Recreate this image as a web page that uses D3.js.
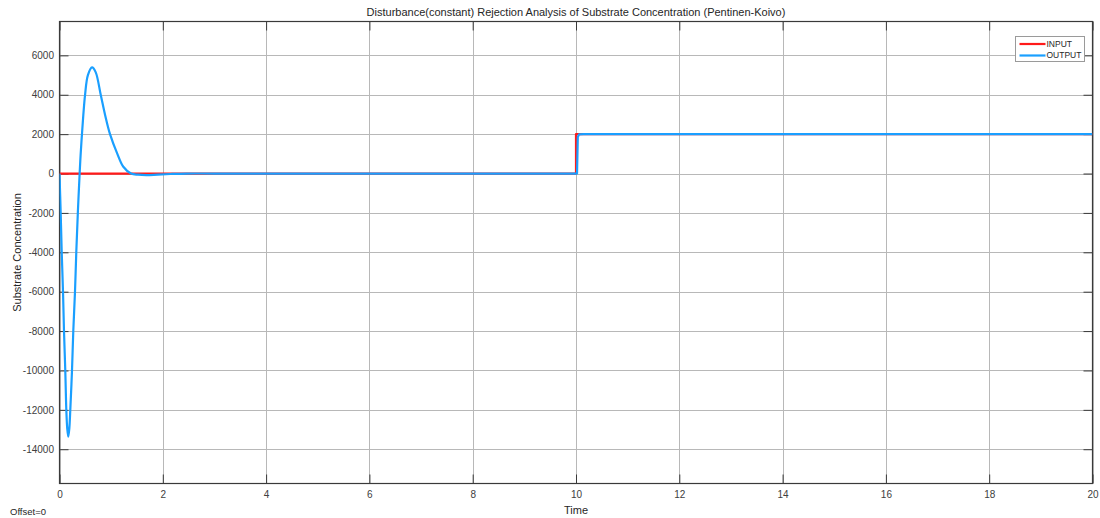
<!DOCTYPE html>
<html>
<head>
<meta charset="utf-8">
<script src="https://cdn.jsdelivr.net/npm/d3@7"></script>
<style>
  html, body { margin: 0; padding: 0; background: #fff; }
  svg { display: block; font-family: "Liberation Sans", Arial, Helvetica, sans-serif; }
</style>
</head>
<body>
<svg id="chart" width="1100" height="518"></svg>
<script>
// Simulated time (s) and controller response samples
const inputTime  = [0, 10, 10, 20];
const inputValue = [0, 0, 2000, 2000];

// transient part of the output (smooth)
const outputTime  = [0, 0.023, 0.043, 0.068, 0.087, 0.112, 0.132, 0.150, 0.170, 0.190, 0.209, 0.242, 0.267, 0.300, 0.325, 0.355, 0.390, 0.410, 0.435, 0.462, 0.495, 0.550, 0.630, 0.700, 0.798, 0.885, 0.978, 1.120, 1.236, 1.385, 1.520, 1.680, 1.900, 2.150, 2.460, 3.000, 6.000, 10.000];
const outputValue = [0, -2000, -4000, -6000, -8000, -10000, -12000, -12950, -13360, -12950, -12000, -10000, -8000, -6000, -4000, -2000, 0, 1000, 2000, 3000, 4000, 5000, 5390, 5150, 4000, 2950, 2000, 1000, 345, 0, -60, -80, -55, -25, 0, 0, 0, 0];
// step response to the disturbance at t = 10
const stepTime  = [10.000, 10.020, 10.035, 10.060, 10.150, 20.000];
const stepValue = [0, 0, 1850, 1990, 2000, 2000];

const xTicks = [0, 2, 4, 6, 8, 10, 12, 14, 16, 18, 20];
const yTicks = [-14000, -12000, -10000, -8000, -6000, -4000, -2000, 0, 2000, 4000, 6000];
const xDomain = [0, 20];
const yDomain = [-15740, 7720];

const seriesNames = ["INPUT", "OUTPUT"];
const seriesColors = ["#ff1a1a", "#1a9fff"];

const svg = d3.select("#chart");
const plot = { left: 59.5, top: 21.5, right: 1092.5, bottom: 483.5 };

const x = d3.scaleLinear().domain(xDomain).range([plot.left, plot.right]);
const y = d3.scaleLinear().domain(yDomain).range([plot.bottom, plot.top]);

// grid
const grid = svg.append("g").attr("stroke", "#b8b8b8").attr("stroke-width", 1);
xTicks.forEach(t => {
  const px = Math.round(x(t)) + 0.5;
  grid.append("line").attr("x1", px).attr("x2", px).attr("y1", plot.top).attr("y2", plot.bottom);
});
yTicks.forEach(t => {
  const py = Math.round(y(t)) + 0.5;
  grid.append("line").attr("x1", plot.left).attr("x2", plot.right).attr("y1", py).attr("y2", py);
});

// axes with inward ticks on all four sides
const tickLen = 9;
const axisColor = "#3a3a3a";
const xAxisB = d3.axisBottom(x).tickValues(xTicks).tickSizeInner(-tickLen).tickSizeOuter(0).tickPadding(7).tickFormat(d3.format("d"));
const xAxisT = d3.axisTop(x).tickValues(xTicks).tickSizeInner(-tickLen).tickSizeOuter(0).tickFormat("");
const yAxisL = d3.axisLeft(y).tickValues(yTicks).tickSizeInner(-tickLen).tickSizeOuter(0).tickPadding(5.5).tickFormat(d => String(d));
const yAxisR = d3.axisRight(y).tickValues(yTicks).tickSizeInner(-tickLen).tickSizeOuter(0).tickFormat("");

function styleAxis(g) {
  g.select(".domain").remove();
  g.selectAll(".tick line").attr("stroke", axisColor).attr("stroke-width", 1);
  g.selectAll(".tick text").attr("fill", "#404040").style("font-size", "10px");
}
svg.append("g").attr("transform", `translate(0,${plot.bottom})`).call(xAxisB).call(styleAxis);
svg.append("g").attr("transform", `translate(0,${plot.top})`).call(xAxisT).call(styleAxis);
svg.append("g").attr("transform", `translate(${plot.left},0)`).call(yAxisL).call(styleAxis);
svg.append("g").attr("transform", `translate(${plot.right},0)`).call(yAxisR).call(styleAxis);

// frame
svg.append("rect")
  .attr("x", plot.left).attr("y", plot.top)
  .attr("width", plot.right - plot.left).attr("height", plot.bottom - plot.top)
  .attr("fill", "none").attr("stroke", axisColor).attr("stroke-width", 1.2);

// clipping to the axes box
svg.append("clipPath").attr("id", "clip").append("rect")
  .attr("x", plot.left).attr("y", plot.top)
  .attr("width", plot.right - plot.left).attr("height", plot.bottom - plot.top);

const lineLinear = d3.line().x(d => x(d[0])).y(d => y(d[1]));
const lineSmooth = d3.line().x(d => x(d[0])).y(d => y(d[1])).curve(d3.curveCatmullRom.alpha(0.5));

const inputData = inputTime.map((t, i) => [t, inputValue[i]]);
const outputData = outputTime.map((t, i) => [t, outputValue[i]]);
const stepData = stepTime.map((t, i) => [t, stepValue[i]]);

const lines = svg.append("g").attr("clip-path", "url(#clip)");
lines.append("path").attr("d", lineLinear(inputData))
  .attr("fill", "none").attr("stroke", seriesColors[0]).attr("stroke-width", 2.2).attr("stroke-linejoin", "round");
lines.append("path").attr("d", lineSmooth(outputData) + lineLinear(stepData).replace(/^M/, "L"))
  .attr("fill", "none").attr("stroke", seriesColors[1]).attr("stroke-width", 2.2).attr("stroke-linejoin", "round");

// legend
const lg = svg.append("g").attr("transform", "translate(1015.5,36.5)");
lg.append("rect").attr("width", 69).attr("height", 25).attr("fill", "#fff").attr("stroke", "#9a9a9a").attr("stroke-width", 1);
seriesNames.forEach((name, i) => {
  const yy = 7.5 + i * 11.5;
  lg.append("line").attr("x1", 4).attr("x2", 30).attr("y1", yy).attr("y2", yy)
    .attr("stroke", seriesColors[i]).attr("stroke-width", 2.2);
  lg.append("text").attr("x", 31).attr("y", yy).attr("dy", "0.35em")
    .style("font-size", "8.5px").attr("fill", "#262626").text(name);
});

// titles
svg.append("text").attr("x", (plot.left + plot.right) / 2).attr("y", 12).attr("dy", "0.35em")
  .attr("text-anchor", "middle").style("font-size", "11px").attr("fill", "#262626")
  .text("Disturbance(constant) Rejection Analysis of Substrate Concentration (Pentinen-Koivo)");
svg.append("text").attr("x", (plot.left + plot.right) / 2).attr("y", 510).attr("dy", "0.35em")
  .attr("text-anchor", "middle").style("font-size", "11px").attr("fill", "#262626").text("Time");
svg.append("text").attr("transform", `translate(17,${(plot.top + plot.bottom) / 2}) rotate(-90)`)
  .attr("dy", "0.35em").attr("text-anchor", "middle").style("font-size", "11px").attr("fill", "#262626")
  .text("Substrate Concentration");
svg.append("text").attr("x", 10).attr("y", 511.5).attr("dy", "0.35em")
  .style("font-size", "9.5px").attr("fill", "#262626").text("Offset=0");
</script>
</body>
</html>
